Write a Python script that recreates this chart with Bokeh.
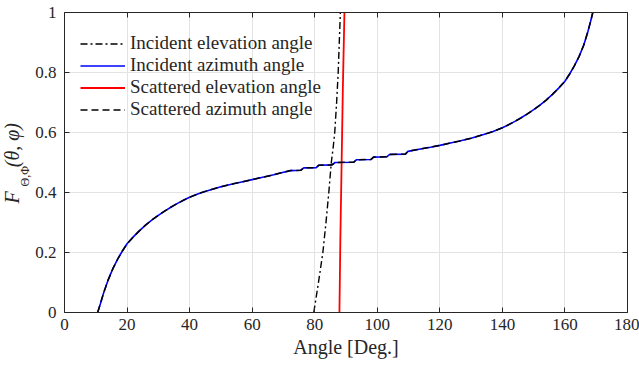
import math
from bokeh.plotting import figure
from bokeh.models import (FixedTicker, LinearAxis, Title, Legend, LegendItem, Range1d)
from bokeh.embed import file_html
from bokeh.resources import INLINE

# ---- data ----
az_x = [10.6, 11.5, 12.5, 13.9, 15.5, 17.0, 18.5, 20.0, 22.0, 24.0, 26.0, 28.0, 30.0, 32.0,
        34.0, 36.0, 38.0, 40.0, 43.0, 46.0, 50.0, 54.0, 57.0, 60.0, 63.0, 66.9, 69.0, 72.3,
        75.5, 76.5, 80.5, 81.3, 85.5, 86.5, 92.5, 93.3, 98.0, 98.8, 103.0, 104.0, 109.0,
        109.8, 113.8, 117.0, 120.0, 123.0, 126.0, 130.0, 134.0, 137.0, 140.0, 142.0, 144.0,
        146.0, 148.0, 150.0, 152.0, 154.0, 156.0, 158.0, 160.0, 161.5, 163.0, 164.5, 166.0,
        167.3, 168.2, 168.9]
az_y = [0.000, 0.030, 0.065, 0.107, 0.147, 0.178, 0.205, 0.229, 0.252, 0.273, 0.292, 0.309,
        0.324, 0.338, 0.351, 0.363, 0.374, 0.384, 0.397, 0.407, 0.419, 0.429, 0.436, 0.443,
        0.450, 0.459, 0.465, 0.473, 0.474, 0.482, 0.483, 0.491, 0.492, 0.500, 0.501, 0.509,
        0.510, 0.518, 0.519, 0.527, 0.528, 0.537, 0.545, 0.551, 0.557, 0.564, 0.571, 0.581,
        0.593, 0.603, 0.616, 0.626, 0.637, 0.649, 0.662, 0.676, 0.691, 0.708, 0.727, 0.748,
        0.771, 0.795, 0.822, 0.853, 0.891, 0.935, 0.970, 1.000]
inc_el_x = [79.7, 81.2, 82.6, 83.6, 84.5, 85.3, 85.9, 86.4, 87.0, 87.5, 88.2]
inc_el_y = [0.0, 0.1, 0.2, 0.3, 0.4, 0.5, 0.55, 0.6, 0.7, 0.8, 1.0]
sc_el_x = [87.9, 88.2, 88.6, 89.0, 89.5]
sc_el_y = [0.0, 0.25, 0.5, 0.75, 1.0]

x_ticks = [0, 20, 40, 60, 80, 100, 120, 140, 160, 180]
y_ticks = [0, 0.2, 0.4, 0.6, 0.8, 1.0]
series_names = ["Incident elevation angle", "Incident azimuth angle",
                "Scattered elevation angle", "Scattered azimuth angle"]

FONT = "Liberation Serif"
AX = "#262626"

p = figure(width=639, height=371, output_backend="svg", toolbar_location=None,
           x_range=Range1d(0, 180), y_range=Range1d(0, 1),
           min_border_left=64, min_border_right=12, min_border_top=12, min_border_bottom=59)
p.outline_line_color = None
p.background_fill_color = "white"
p.border_fill_color = "white"

def style_axis(ax, show_labels=True):
    ax.axis_line_color = AX
    ax.axis_line_width = 1
    ax.major_tick_line_color = AX
    ax.major_tick_in = 5
    ax.major_tick_out = 0
    ax.minor_tick_line_color = None
    ax.major_label_text_font = FONT
    ax.major_label_text_color = AX
    ax.major_label_text_font_size = "17px"
    if not show_labels:
        ax.major_label_text_font_size = "0px"
        ax.major_label_text_color = None
        ax.major_label_standoff = 0

p.xaxis.ticker = FixedTicker(ticks=x_ticks)
p.yaxis.ticker = FixedTicker(ticks=y_ticks)
p.yaxis.major_label_overrides = {0: "0", 1: "1"}
style_axis(p.xaxis[0])
style_axis(p.yaxis[0])
p.xaxis.major_label_standoff = 6
p.yaxis.major_label_standoff = 8
p.xaxis.axis_label = "Angle [Deg.]"
p.xaxis.axis_label_text_font = FONT
p.xaxis.axis_label_text_font_style = "normal"
p.xaxis.axis_label_text_font_size = "20px"
p.xaxis.axis_label_text_color = AX
p.xaxis.axis_label_standoff = 3

top = LinearAxis(ticker=FixedTicker(ticks=x_ticks))
style_axis(top, False)
right = LinearAxis(ticker=FixedTicker(ticks=y_ticks))
style_axis(right, False)
p.add_layout(top, "above")
p.add_layout(right, "right")

p.xgrid.ticker = FixedTicker(ticks=x_ticks)
p.ygrid.ticker = FixedTicker(ticks=y_ticks)
p.grid.grid_line_color = "#e3e3e3"
p.grid.grid_line_width = 1

r1 = p.line(inc_el_x, inc_el_y, line_color="black", line_width=1.4, line_dash="7 3 2 3")
r2 = p.line(az_x, az_y, line_color="#0000ff", line_width=1.6)
r3 = p.line(sc_el_x, sc_el_y, line_color="#ff0000", line_width=1.8)
r4 = p.line(az_x, az_y, line_color="black", line_width=1.5, line_dash="7 4")

legend = Legend(items=[LegendItem(label=series_names[0], renderers=[r1]),
                       LegendItem(label=series_names[1], renderers=[r2]),
                       LegendItem(label=series_names[2], renderers=[r3]),
                       LegendItem(label=series_names[3], renderers=[r4])],
                location=(16, 192))
legend.background_fill_alpha = 0
legend.border_line_color = None
legend.padding = 0
legend.margin = 0
legend.spacing = 0
legend.glyph_width = 45
legend.glyph_height = 21
legend.label_height = 21
legend.label_standoff = 5
legend.label_text_font = FONT
legend.label_text_font_size = "19px"
legend.label_text_color = AX
p.add_layout(legend)

# y-axis label F_{Θ,Φ}(θ, φ): subscript and main text as two stacked left-side titles
sub_title = Title(text="Θ,Φ", align="left", offset=126, standoff=-2, vertical_align="top",
                  text_font=FONT, text_font_size="12px", text_font_style="normal",
                  text_color=AX)
main_title = Title(text="F\u2003\u2009(θ, φ)", align="left", offset=109, standoff=-12,
                   vertical_align="top",
                   text_font=FONT, text_font_size="20px", text_font_style="italic",
                   text_color=AX)
p.add_layout(sub_title, "left")
p.add_layout(main_title, "left")

open("out.html", "w").write(file_html(p, INLINE))
